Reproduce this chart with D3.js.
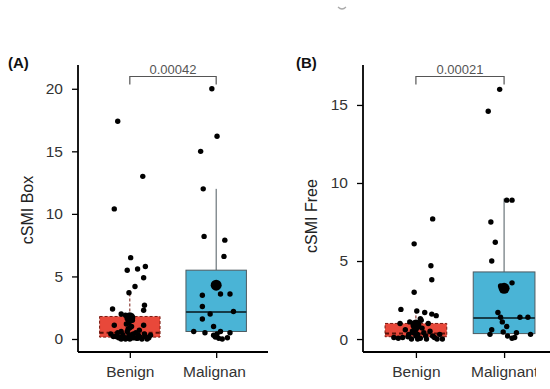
<!DOCTYPE html>
<html>
<head>
<meta charset="utf-8">
<script src="https://cdn.jsdelivr.net/npm/d3@7"></script>
<style>
  body { margin: 0; background: #fff; }
  svg text { font-family: "Liberation Sans", Arial, sans-serif; }
</style>
</head>
<body>
<svg id="chart" width="550" height="389"></svg>
<script>
'use strict';

const groups = ["Benign", "Malignant"];

// panel A: cSMI Box  (value, jitter offset in category units)
const boxBenignVals = [17.4, 13.0, 10.4, 6.5, 5.5, 5.6, 5.8, 4.9, 4.2, 3.7, 2.7, 2.4, 2.3, 2.0, 1.9, 1.1, 1.1, 1.3, 1.0, 0.8,
  0.5, 0.3, 0.2, 0.1, 0.0, 0.2, 0.1, 0.3, 0.0, 0.2, 0.1, 0.3, 0.4, 0.6, 0.7, 0.4, 0.05, 0.05, 0.4, 0.5, 0.0, 0.1, 0.15, 0.0,
  1.5, 1.2, 0.9, 0.6, 0.3, 0.1, 0.0, 0.2, 0.05, 0.15];
const boxBenignJit = [-0.14, 0.15, -0.18, 0.01, -0.03, 0.09, 0.18, 0.16, 0.06, -0.01, 0.17, -0.2, 0.16, -0.1, -0.05, -0.18, 0.16, -0.01, 0.02, -0.02,
  0.07, -0.08, -0.16, -0.13, -0.05, 0.01, 0.05, 0.1, 0.14, 0.18, 0.22, 0.24, -0.22, -0.1, 0.11, 0.04, -0.02, 0.08, 0.17, -0.14, 0.0, -0.06, 0.12, 0.2,
  0.03, -0.04, 0.0, -0.03, -0.01, 0.03, -0.1, -0.19, 0.09, -0.11];
const boxMalignVals = [20.0, 16.2, 15.0, 12.0, 8.2, 7.9, 6.6, 3.5, 3.6, 3.6, 2.6, 2.0, 2.2, 1.6, 1.0, 0.6, 0.5, 0.4, 0.6, 0.3, 0.1, 0.5, 0.0, 0.15, 0.05];
const boxMalignJit = [-0.05, 0.01, -0.18, -0.15, -0.14, 0.1, 0.09, -0.16, 0.05, 0.16, -0.16, -0.07, 0.2, -0.16, -0.03, -0.26, -0.13, 0.01, 0.05, -0.03, 0.13, 0.16, 0.07, -0.01, 0.03];
// box stats: [whiskerLow, q1, median, q3, whiskerHigh], mean
const boxStats = [[0, 0.15, 0.5, 1.8, 3.9], [0, 0.6, 2.15, 5.5, 12.0]];
const boxMeans = [1.7, 4.3];

// panel B: cSMI Free
const freeBenignVals = [7.7, 6.1, 4.7, 3.8, 3.0, 1.9, 1.8, 1.7, 1.6, 1.5, 1.3, 1.1, 1.0, 1.0, 0.9, 0.7, 0.6, 0.5, 0.4, 0.3,
  0.2, 0.15, 0.1, 0.3, 0.05, 0.1, 0.0, 0.05, 0.0, 0.2, 0.0, 0.6, 0.4, 0.3, 0.1, 0.0, 1.2, 0.8, 0.5, 0.2, 0.0];
const freeBenignJit = [0.19, -0.02, 0.17, 0.18, -0.02, -0.17, 0.01, 0.1, 0.18, 0.23, 0.05, -0.07, -0.18, 0.14, -0.01, 0.07, -0.12, 0.16, -0.03, 0.02,
  0.11, -0.09, 0.21, 0.27, -0.2, -0.15, -0.05, 0.05, 0.12, 0.19, 0.3, 0.0, 0.09, -0.08, -0.25, 0.24, 0.06, 0.03, -0.04, 0.0, 0.02];
const freeMalignVals = [16.0, 14.6, 8.9, 8.9, 7.5, 6.2, 5.0, 3.6, 3.4, 3.2, 1.7, 1.4, 1.1, 1.4, 1.4, 0.8, 0.6, 0.45, 0.4, 0.3, 0.05, 0.2, 0.3, 0.1];
const freeMalignJit = [-0.05, -0.18, 0.03, 0.09, -0.15, -0.1, -0.14, 0.09, -0.04, 0.01, -0.07, -0.04, -0.02, 0.18, 0.27, 0.03, -0.14, -0.01, 0.14, -0.16, 0.09, 0.04, 0.3, 0.12];
const freeStats = [[0, 0.15, 0.35, 1.0, 1.9], [0, 0.35, 1.35, 4.3, 9.0]];
const freeMeans = [0.9, 3.25];

const yTicksA = [0, 5, 10, 15, 20];
const yTicksB = [0, 5, 10, 15];

const panels = [
  {tag: "(A)", title: "cSMI Box", pval: "0.00042", x0: 78, x1: 268, dom: [-1.04, 21.9], ticks: yTicksA,
   vals: [boxBenignVals, boxMalignVals], jit: [boxBenignJit, boxMalignJit], stats: boxStats, means: boxMeans,
   titleX: 27, titleY: 210, tagX: 8, labClip: 246},
  {tag: "(B)", title: "cSMI Free", pval: "0.00021", x0: 363, x1: 557, dom: [-0.83, 17.56], ticks: yTicksB,
   vals: [freeBenignVals, freeMalignVals], jit: [freeBenignJit, freeMalignJit], stats: freeStats, means: freeMeans,
   titleX: 311, titleY: 216, tagX: 296, labClip: 536}
];

const svg = d3.select("#chart");
const plotTop = 65, plotBottom = 352;
const fills = ["#e8483a", "#4ab4d6"];

panels.forEach(function (p, pi) {
  const x = d3.scaleLinear().domain([0.4, 2.6]).range([p.x0, p.x1]);
  const y = d3.scaleLinear().domain(p.dom).range([plotBottom, plotTop]);
  const bw = x(1.35) - x(1);
  const g = svg.append("g");

  // boxes
  groups.forEach(function (grp, i) {
    const s = p.stats[i], cx = x(i + 1);
    const dashed = i === 0;
    const stroke = dashed ? "#7a1a10" : "#4d5a60";
    g.append("line")
      .attr("x1", cx).attr("x2", cx)
      .attr("y1", y(s[3])).attr("y2", y(s[4]))
      .attr("stroke", stroke).attr("stroke-width", 1)
      .attr("stroke-dasharray", dashed ? "3,2" : null);
    g.append("rect")
      .attr("x", cx - bw).attr("width", bw * 2)
      .attr("y", y(s[3])).attr("height", y(s[1]) - y(s[3]))
      .attr("fill", fills[i]).attr("stroke", stroke).attr("stroke-width", 1)
      .attr("stroke-dasharray", dashed ? "3,2" : null);
    g.append("line")
      .attr("x1", cx - bw).attr("x2", cx + bw)
      .attr("y1", y(s[2])).attr("y2", y(s[2]))
      .attr("stroke", dashed ? "#5a1008" : "#163c48").attr("stroke-width", 2)
      .attr("stroke-dasharray", dashed ? "4,3" : null);
  });

  // jittered points
  groups.forEach(function (grp, i) {
    g.selectAll(null).data(p.vals[i]).enter().append("circle")
      .attr("cx", function (d, j) { return x(i + 1 + p.jit[i][j]); })
      .attr("cy", function (d) { return y(d); })
      .attr("r", 2.7).attr("fill", "#000");
    g.append("circle")
      .attr("cx", x(i + 1)).attr("cy", y(p.means[i]))
      .attr("r", 5.5).attr("fill", "#000");
  });

  // axes
  const yAxis = d3.axisLeft(y).tickValues(p.ticks).tickSize(6).tickPadding(9);
  const ya = g.append("g").attr("transform", "translate(" + p.x0 + ",0)").call(yAxis);
  const xAxis = d3.axisBottom(x).tickValues([1, 2]).tickSize(6).tickPadding(8)
    .tickFormat(function (d) { return groups[d - 1]; });
  const xa = g.append("g").attr("transform", "translate(0," + plotBottom + ")").call(xAxis);
  [ya, xa].forEach(function (a) {
    a.select(".domain").remove();
    a.selectAll("line").attr("stroke", "#000").attr("stroke-width", 1.3);
    a.selectAll("text").attr("font-size", 15.5).attr("fill", "#333");
  });
  g.append("line").attr("x1", p.x0).attr("x2", p.x0).attr("y1", plotTop).attr("y2", plotBottom)
    .attr("stroke", "#000").attr("stroke-width", 1.8);
  g.append("line").attr("x1", p.x0).attr("x2", p.x1).attr("y1", plotBottom).attr("y2", plotBottom)
    .attr("stroke", "#000").attr("stroke-width", 1.8);

  // clip the cut-off "Malignant" label
  const clipId = "clip" + pi;
  svg.append("clipPath").attr("id", clipId).append("rect")
    .attr("x", 0).attr("y", 0).attr("width", p.labClip).attr("height", 389);
  xa.attr("clip-path", "url(#" + clipId + ")");

  // y title
  g.append("text")
    .attr("transform", "translate(" + p.titleX + "," + p.titleY + ") rotate(-90)")
    .attr("text-anchor", "middle").attr("dominant-baseline", "central")
    .attr("font-size", 16).attr("fill", "#222").text(p.title);

  // panel tag
  g.append("text").attr("x", p.tagX).attr("y", 68)
    .attr("font-size", 15).attr("font-weight", "bold").attr("fill", "#111").text(p.tag);

  // significance bracket
  const by = 76.5;
  g.append("path")
    .attr("d", "M" + x(1) + "," + (by + 8) + "V" + by + "H" + x(2) + "V" + (by + 8))
    .attr("fill", "none").attr("stroke", "#555").attr("stroke-width", 1.2);
  g.append("text").attr("x", (x(1) + x(2)) / 2).attr("y", 74)
    .attr("text-anchor", "middle").attr("font-size", 13).attr("fill", "#555").text(p.pval);
});

// small stray mark at the top of the figure
svg.append("path").attr("d", "M338,7 Q342,11 346,7")
  .attr("fill", "none").attr("stroke", "#aaa").attr("stroke-width", 1.2);
</script>
</body>
</html>
